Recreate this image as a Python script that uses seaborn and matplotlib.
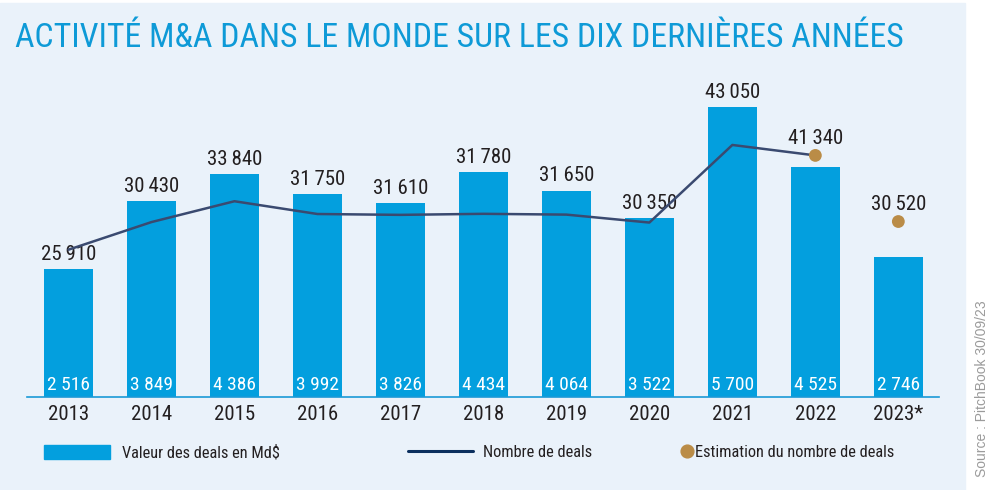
import numpy as np
import pandas as pd
import seaborn as sns
import matplotlib.pyplot as plt
from matplotlib.patches import Rectangle, Patch
from matplotlib.lines import Line2D

years = ['2013', '2014', '2015', '2016', '2017', '2018', '2019', '2020', '2021', '2022', '2023*']
deal_value = [2516, 3849, 4386, 3992, 3826, 4434, 4064, 3522, 5700, 4525, 2746]
deal_count = [25910, 30430, 33840, 31750, 31610, 31780, 31650, 30350, 43050, 41340]
estimate_years = ['2022', '2023*']
estimate_count = [41340, 30520]

BAR = '#039FDE'
LINE = '#3A4A70'
LEG_LINE = '#0B2F5E'
DOT = '#BA8C47'
PANEL = '#EAF2FA'
TITLE = '#0E9AD7'
DARK = '#231F20'

sns.set_style('white')
# condensed face first, plain ones as fallback if it is missing
plt.rcParams['font.family'] = ['Roboto Condensed', 'Archivo Narrow', 'Liberation Sans Narrow',
                               'Roboto', 'DejaVu Sans']


def fmt(v, sep='\u2009'):
    return f"{v:,}".replace(',', sep)


fig = plt.figure(figsize=(9.9, 4.9), dpi=100)
fig.patch.set_facecolor('white')
fig.patches.append(Rectangle((0, 0), 965 / 990, 487 / 490, transform=fig.transFigure,
                             color=PANEL, zorder=-1))

ax = fig.add_axes([26.5 / 990, 93 / 490, 912.5 / 990, 307 / 490])
ax.set_facecolor('none')
df = pd.DataFrame({'year': years, 'value': deal_value})
sns.barplot(data=df, x='year', y='value', color=BAR, width=0.59, saturation=1,
            linewidth=0, edgecolor='none', ax=ax)

ax2 = ax.twinx()
sns.lineplot(x=np.arange(len(deal_count)), y=deal_count, ax=ax2, color=LINE, lw=1.8)
est_x = [years.index(y) for y in estimate_years]
sns.scatterplot(x=est_x, y=estimate_count, ax=ax2, s=85, color=DOT, edgecolor='none', zorder=5)

ax.set_xlim(-0.506, 10.49)
ax.set_ylim(0, 6042)
ax2.set_ylim(1800, 52046)

# white values inside the bars
for i, v in enumerate(deal_value):
    ax.annotate(fmt(v, ' '), (i, 0), xytext=(0, 5), textcoords='offset points',
                ha='center', va='baseline', color='white', fontsize=14)

# deal counts above bars
for i in range(len(deal_count)):
    if years[i] in estimate_years:
        continue
    ax.annotate(fmt(deal_count[i]), (i, deal_value[i]), xytext=(0, 6.5), textcoords='offset points',
                ha='center', va='baseline', color=DARK, fontsize=15)

# estimates above dots
for x, v in zip(est_x, estimate_count):
    ax2.annotate(fmt(v), (x, v), xytext=(0, 8), textcoords='offset points',
                 ha='center', va='baseline', color=DARK, fontsize=15)

for a in (ax, ax2):
    for s in ('top', 'right', 'left'):
        a.spines[s].set_visible(False)
    a.set_xlabel('')
    a.set_ylabel('')
    a.set_yticks([])
ax2.spines['bottom'].set_visible(False)
ax.spines['bottom'].set_color('#1B9AD6')
ax.spines['bottom'].set_linewidth(1.2)
ax.set_xticks(range(len(years)))
ax.set_xticklabels(years)
ax.tick_params(axis='x', length=0, pad=5.5, labelsize=15, labelcolor=DARK)

fig.text(15 / 990, 1 - 46.7 / 490, 'ACTIVITÉ M&A DANS LE MONDE SUR LES DIX DERNIÈRES ANNÉES',
         ha='left', va='baseline', color=TITLE, fontsize=24.3)

fig.text(981.5 / 990, 1 - 389 / 490, 'Source : PitchBook 30/09/23', rotation=90,
         ha='center', va='center', color='#9B9B9B', fontsize=10, family='Liberation Sans')

leg_kw = dict(loc='center left', frameon=False, borderpad=0, borderaxespad=0, fontsize=11.8,
              labelcolor=DARK)
fig.legend(handles=[Patch(color=BAR)], labels=['Valeur des deals en Md$'],
           bbox_to_anchor=(44 / 990, 1 - 452.5 / 490), handlelength=4.0, handleheight=0.92,
           handletextpad=0.73, **leg_kw)
fig.legend(handles=[Line2D([], [], color=LEG_LINE, lw=2.2)], labels=['Nombre de deals'],
           bbox_to_anchor=(408 / 990, 1 - 452.5 / 490), handlelength=3.95,
           handletextpad=0.6, **leg_kw)
fig.legend(handles=[Line2D([], [], marker='o', ls='none', color=DOT, markersize=9.2)],
           labels=['Estimation du nombre de deals'],
           bbox_to_anchor=(681 / 990, 1 - 452.5 / 490), handlelength=0.75,
           handletextpad=0.1, **leg_kw)

fig.savefig('out.png', dpi=100, facecolor=fig.get_facecolor())
